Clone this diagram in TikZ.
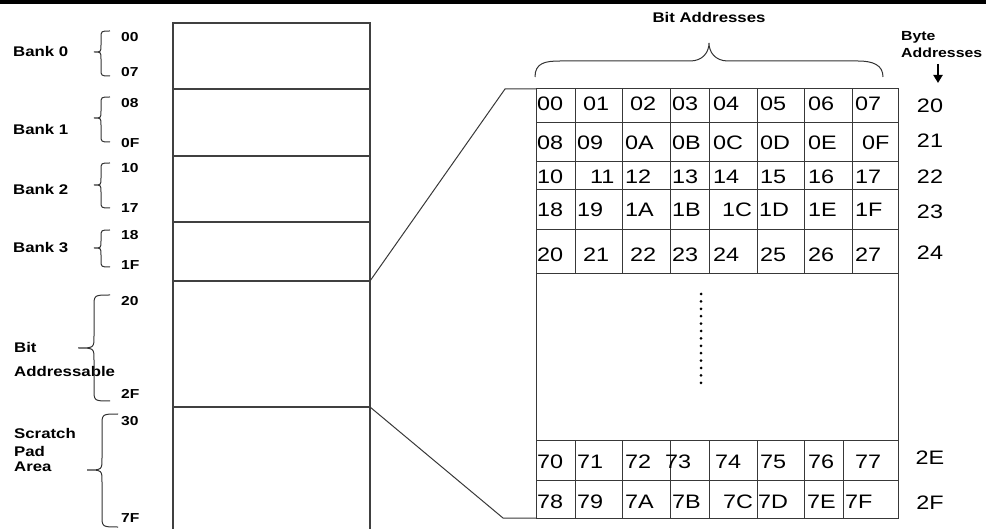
\documentclass[tikz,border=0pt]{standalone}
\usepackage{fontspec}
\setmainfont{Liberation Sans}[FakeStretch=1.2]
\usetikzlibrary{arrows.meta}
\newcommand{\mybrace}[7]{%
  \draw[brc] (#1,#4) .. controls (#2,#4) .. (#2,#4+#7) -- (#2,#5-#7)
    .. controls (#2,#5) .. (#3,#5) .. controls (#2,#5) .. (#2,#5+#7)
    -- (#2,#6-#7) .. controls (#2,#6) .. (#1,#6);}
\begin{document}
\begin{tikzpicture}[x=1pt,y=-1pt,
  lbl/.style={font=\bfseries\fontsize{14}{14}\selectfont, anchor=west, inner sep=0pt},
  blbl/.style={font=\bfseries\fontsize{13.2}{13.2}\selectfont, anchor=west, inner sep=0pt},
  adr/.style={font=\bfseries\fontsize{13}{13}\selectfont, anchor=west, inner sep=0pt},
  num/.style={font=\fontsize{19.5}{19.5}\selectfont, anchor=west, inner sep=0pt},
  byte/.style={font=\fontsize{19.5}{19.5}\selectfont, anchor=center, inner sep=0pt},
  boxline/.style={draw=black!75, line width=1.3pt},
  gridline/.style={draw=black!78, line width=1pt},
  brc/.style={draw=black!80, line width=1pt}]
\useasboundingbox (0,0) rectangle (986,529);
\draw[line width=3.5pt] (0,2) -- (986,2);

% left memory column
\draw[boxline] (173,529) -- (173,23) -- (370,23) -- (370,529);
\foreach \y in {89,156,222,281,407} \draw[boxline] (173,\y) -- (370,\y);

% connectors
\coordinate (b3r) at (370,281);
\coordinate (sr) at (370,407);
\coordinate (k1) at (505,89);
\coordinate (k2) at (503,518);
\coordinate (gtl) at (536,89);
\coordinate (gbl) at (536,518);
\draw[gridline] (b3r) -- (k1) -- (gtl);
\draw[gridline] (sr) -- (k2) -- (gbl);

% grid
\draw[gridline] (536,89) rectangle (898,518);
\foreach \y in {123,162,190,230,274,440,480} \draw[gridline] (536,\y) -- (898,\y);
\foreach \x in {575,622,670,709,757,804,852} \draw[gridline] (\x,89) -- (\x,274);
\foreach \x in {575,622,670,709,757,804,843} \draw[gridline] (\x,440) -- (\x,518);

% grid texts
\foreach \x/\t [count=\i] in {537/00,583/01,630/02,672/03,713/04,760/05,808/06,855/07}
  \node[num] (ra\i) at (\x,104) {\t};
\foreach \x/\t [count=\i] in {537/08,577/09,625/0A,672/0B,713/0C,760/0D,808/0E,862/0F}
  \node[num] (rb\i) at (\x,143) {\t};
\foreach \x/\t [count=\i] in {537/10,590/11,625/12,672/13,713/14,760/15,808/16,855/17}
  \node[num] (rc\i) at (\x,177) {\t};
\foreach \x/\t [count=\i] in {537/18,577/19,625/1A,672/1B,722/1C,759/1D,808/1E,855/1F}
  \node[num] (rd\i) at (\x,210) {\t};
\foreach \x/\t [count=\i] in {537/20,583/21,630/22,672/23,713/24,760/25,808/26,855/27}
  \node[num] (re\i) at (\x,255) {\t};
\foreach \x/\t [count=\i] in {537/70,577/71,625/72,665/73,715/74,760/75,808/76,855/77}
  \node[num] (rf\i) at (\x,462) {\t};
\foreach \x/\t [count=\i] in {537/78,577/79,625/7A,672/7B,723/7C,758/7D,807/7E,845/7F}
  \node[num] (rg\i) at (\x,502) {\t};

% dotted continuation
\coordinate (d1) at (701,294);
\coordinate (d2) at (701,390);
\draw[line width=3pt, line cap=round, dash pattern=on 0pt off 7.4pt] (d1) -- (d2);

% byte addresses
\foreach \y/\t [count=\i] in {106/20,141/21,177/22,212/23,253/24,458/2E,503/2F}
  \node[byte] (by\i) at (930,\y) {\t};
\node[blbl] (byte1) at (901,37) {Byte};
\node[blbl] (byte2) at (901,53) {Addresses};
\coordinate (ar1) at (938,64);
\coordinate (ar2) at (938,83);
\draw[line width=2.8pt, -{Triangle[width=9pt,length=8pt]}] (ar1) -- (ar2);

% bit addresses
\node[lbl, anchor=center] (bita) at (709,17) {Bit Addresses};
\draw[brc] (535,77) .. controls (535,63) and (545,61) .. (560,61) -- (690,61)
  .. controls (703,61) and (709,52) .. (709,43)
  .. controls (709,52) and (715,61) .. (728,61) -- (858,61)
  .. controls (873,61) and (883,65) .. (883,77);

% left labels
\node[lbl] (bk0) at (13,51) {Bank 0};
\node[lbl] (bk1) at (13,129) {Bank 1};
\node[lbl] (bk2) at (13,189) {Bank 2};
\node[lbl] (bk3) at (13,248) {Bank 3};
\node[lbl] (ba1) at (14,347) {Bit};
\node[lbl] (ba2) at (14,371) {Addressable};
\node[lbl] (sp1) at (14,433) {Scratch};
\node[lbl] (sp2) at (14,451) {Pad};
\node[lbl] (sp3) at (14,467) {Area};

\foreach \y/\t [count=\i] in {37/00,72/07,103/08,143/0F,168/10,208/17,235/18,265/1F,301/20,394/2F,421/30,518/7F}
  \node[adr] (ad\i) at (121,\y) {\t};

% braces
\mybrace{110}{101}{94}{31}{52}{76}{7}
\mybrace{110}{101}{94}{97}{118}{142}{7}
\mybrace{110}{101}{94}{163}{185}{208}{7}
\mybrace{110}{101}{94}{230}{248}{267}{7}
\mybrace{110}{94}{78}{295}{348}{401}{12}
\mybrace{118}{102}{87}{414}{470}{527}{12}
\end{tikzpicture}
\end{document}
